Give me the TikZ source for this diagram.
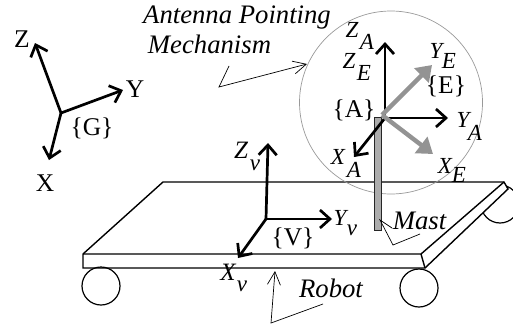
\documentclass[tikz,border=0pt]{standalone}
\usepackage{fontspec}
\setmainfont{Liberation Serif}
\usetikzlibrary{arrows.meta}
\tikzset{
 x=1pt,y=-1pt,
 lbl/.style={inner sep=0pt,font=\fontsize{25.5}{27}\selectfont},
 ilbl/.style={inner sep=0pt,font=\fontsize{23}{25}\selectfont\itshape},
 vlbl/.style={inner sep=0pt,font=\fontsize{25}{27}\selectfont\itshape},
 clbl/.style={inner sep=0pt,font=\fontsize{26.7}{28}\selectfont\itshape},
 sub/.style={inner sep=0pt,font=\fontsize{23}{24}\selectfont\itshape},
 axis/.style={line width=2.7pt,-{Straight Barb[length=10pt,width=18pt,line width=2.7pt]}},
 gaxis/.style={line width=4.4pt,draw=gray!85,-{Triangle[length=15pt,width=20pt]}},
 edge/.style={line width=1.4pt},
 call/.style={line width=0.7pt},
 callarrow/.style={line width=0.7pt,-{Straight Barb[length=13pt,width=13pt,line width=0.7pt]}},
}
\begin{document}
\begin{tikzpicture}
\useasboundingbox (0,0) rectangle (513,324);
% back wheel
\node[draw,circle,line width=1.2pt,minimum size=38pt,inner sep=0pt] (wb) at (500,204) {};
% platform
\coordinate (p1) at (163,182); \coordinate (p2) at (504,182);
\coordinate (p3) at (421,254); \coordinate (p4) at (83,254);
\coordinate (p5) at (83,268); \coordinate (p6) at (425,268);
\coordinate (p7) at (508,189);
\draw[edge,fill=white] (p1) -- (p2) -- (p7) -- (p6) -- (p5) -- (p4) -- cycle;
\draw[edge] (p4) -- (p3) -- (p2);
\draw[edge] (p3) -- (p6);
\node[draw,circle,line width=1.2pt,minimum size=38pt,inner sep=0pt] (wl) at (101,286) {};
\node[draw,circle,line width=1.2pt,minimum size=38pt,inner sep=0pt] (wr) at (419,288) {};
% antenna circle
\node[draw=gray!80,circle,line width=0.7pt,minimum size=183pt,inner sep=0pt] (ant) at (391,102.5) {};
% mast
\node[draw=black!85,fill=gray!65,line width=0.9pt,minimum width=6.5pt,minimum height=113pt,inner sep=0pt] (mast) at (378,174) {};
% G frame
\coordinate (G) at (61,113);
\coordinate (Gz) at (35,43); \coordinate (Gy) at (123,90); \coordinate (Gx) at (49,160);
\draw[axis] (G) -- (Gz); \draw[axis] (G) -- (Gy); \draw[axis] (G) -- (Gx);
\node[lbl] (tz) at (22,39) {Z};
\node[lbl] (ty) at (135,89) {Y};
\node[lbl] (tg) at (92,128) {\{G\}};
\node[lbl] (tx) at (45,183) {X};
% A frame
\coordinate (A) at (382,115);
\coordinate (Az) at (385,42); \coordinate (Ao) at (385,118); \coordinate (Ay) at (448,118); \coordinate (Ax) at (354,157);
\draw[axis] (Ao) -- (Az); \draw[axis] (Ao) -- (Ay); \draw[axis] (Ao) -- (Ax);
\draw[gaxis] (A) -- (432,65);
\draw[gaxis] (A) -- (433,154);
\node[ilbl] at (352,30) {Z};
\node[ilbl] at (367,42) {A};
\node[ilbl] at (349,61) {Z};
\node[ilbl] at (364,73) {E};
\node[ilbl] at (436,51) {Y};
\node[ilbl] at (449,61) {E};
\node[lbl] at (446,86) {\{E\}};
\node[lbl] at (354,110) {\{A\}};
\node[ilbl] at (463,120) {Y};
\node[ilbl] at (475,133) {A};
\node[ilbl] at (338,157) {X};
\node[ilbl] at (354,170) {A};
\node[ilbl] at (445,166) {X};
\node[ilbl] at (459,175) {E};
% V frame
\coordinate (V) at (266,219);
\coordinate (Vz) at (268,143); \coordinate (Vy) at (332,219); \coordinate (Vx) at (238,258);
\draw[axis] (V) -- (Vz); \draw[axis] (V) -- (Vy); \draw[axis] (V) -- (Vx);
\node[vlbl] at (241,150) {Z};
\node[sub] at (255,165) {v};
\node[ilbl] at (340,218) {Y};
\node[sub] at (352,230) {v};
\node[lbl] at (293,238) {\{V\}};
\node[vlbl] at (228,272) {X};
\node[sub] at (242,286) {v};
% callouts
\node[clbl] (ta) at (237,18) {Antenna Pointing};
\node[clbl] (tm) at (209.5,44) {Mechanism};
\node[clbl] (tmast) at (419.5,221) {Mast};
\node[clbl] (trob) at (331,288) {Robot};
\coordinate (c1) at (229,66); \coordinate (c2) at (219,87); \coordinate (c3) at (307,64);
\draw[callarrow] (c1) -- (c2) -- (c3);
\coordinate (m1) at (420,234); \coordinate (m2) at (393,245); \coordinate (m3) at (380,220);
\draw[call] (m1) -- (m2) -- (m3) -- (392,228);
\coordinate (r1) at (323,304); \coordinate (r2) at (271,323); \coordinate (r3) at (275,271);
\draw[callarrow] (r1) -- (r2) -- (r3);
\end{tikzpicture}
\end{document}
